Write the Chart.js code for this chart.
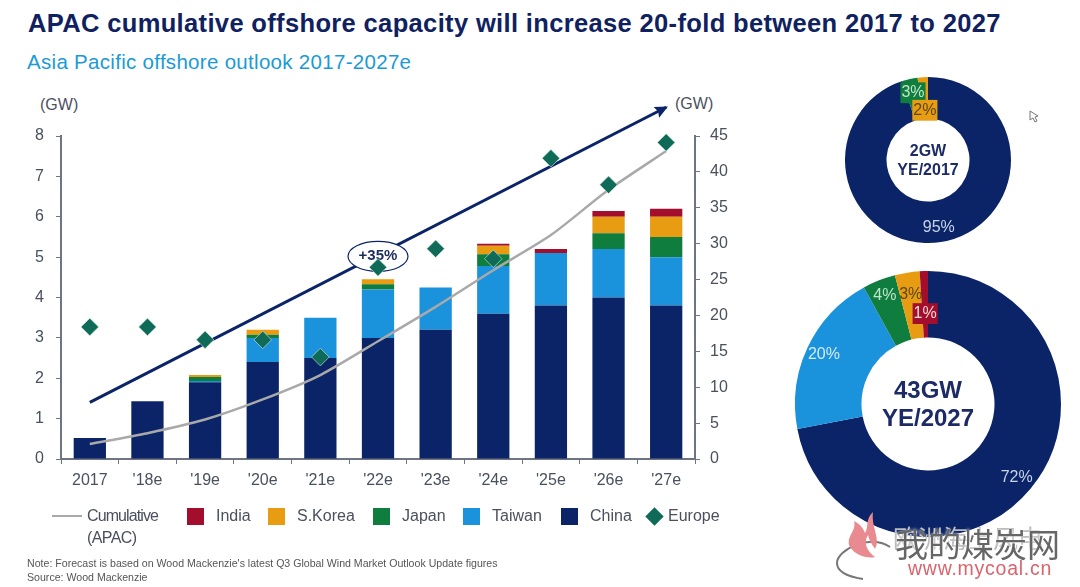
<!DOCTYPE html>
<html>
<head>
<meta charset="utf-8">
<title>APAC offshore capacity</title>
<script src="https://cdn.jsdelivr.net/npm/chart.js@4"></script>
<style>
  html, body { margin: 0; padding: 0; background: #fff; }
  body { width: 1080px; height: 587px; position: relative; overflow: hidden; font-family: "Liberation Sans", Arial, sans-serif; }
  canvas { position: absolute; }
  .txt { position: absolute; white-space: nowrap; }
  #title { left: 28px; top: 9px; font-size: 25.5px; font-weight: bold; color: #10215f; letter-spacing: 0.35px; }
  #subtitle { left: 27px; top: 50px; font-size: 20.5px; color: #1b9ad6; letter-spacing: 0.3px; }
  .unit { font-size: 16px; color: #4b4f5e; }
  .legend { font-size: 16px; color: #4b4f5e; top: 507px; }
  .swatch { position: absolute; top: 508px; width: 17px; height: 17px; }
  .note { left: 27px; font-size: 10.6px; color: #555; }
  #wm1 { left: 895px; top: 524px; font-size: 33px; color: #666; font-family: "Noto Sans CJK SC"; line-height: 38px; text-shadow: 0 0 3px #fff; }
  #wm0 { left: 893px; top: 522px; font-size: 25px; color: #bbb; font-family: "Noto Sans CJK SC"; line-height: 30px; }
  #wm2 { left: 908px; top: 557px; font-size: 19.5px; color: #d9646c; letter-spacing: 0.75px; }
</style>
</head>
<body>
<div class="txt" id="title">APAC cumulative offshore capacity will increase 20-fold between 2017 to 2027</div>
<div class="txt" id="subtitle">Asia Pacific offshore outlook 2017-2027e</div>
<div class="txt unit" style="left:40px;top:96px">(GW)</div>
<div class="txt unit" style="left:675px;top:95px">(GW)</div>

<canvas id="mainChart" width="760" height="587" style="left:0;top:0"></canvas>
<canvas id="pie2017" width="166" height="166" style="left:845px;top:77px"></canvas>
<canvas id="pie2027" width="266" height="266" style="left:795px;top:271px"></canvas>

<div id="legend"></div>
<div class="txt note" style="top:557px">Note: Forecast is based on Wood Mackenzie's latest Q3 Global Wind Market Outlook Update figures</div>
<div class="txt note" style="top:571px">Source: Wood Mackenzie</div>

<!-- watermark and stray cursor from the screenshot -->
<div class="txt" id="wm0">欧洲海上风电</div>
<svg style="position:absolute;left:835px;top:505px" width="75" height="80">
  <path d="M55 42 C35 28 2 45 2 58 C2 68 15 72 28 74" fill="none" stroke="#777" stroke-width="2"/>
  <path d="M38 7 C30 14 34 22 30 28 C27 20 22 18 19 16 C22 26 10 32 15 42 C20 50 32 54 40 52 C32 46 28 38 33 30 C35 38 38 40 40 44 C46 34 36 22 38 7Z" fill="#e88a90"/>
</svg>
<div class="txt" id="wm1">我的煤炭网</div>
<div class="txt" id="wm2">www.mycoal.cn</div>
<svg style="position:absolute;left:1029px;top:110px" width="12" height="14">
  <path d="M1 1 L1 10 L4 8 L6 12 L8 11 L6 7 L9 6 Z" fill="#fff" stroke="#777" stroke-width="1"/>
</svg>

<script>
// data
const years = ['2017', "'18e", "'19e", "'20e", "'21e", "'22e", "'23e", "'24e", "'25e", "'26e", "'27e"];
const china = [0.52, 1.43, 1.9, 2.4, 2.5, 3.0, 3.2, 3.6, 3.8, 4.0, 3.8];
const taiwan = [0, 0, 0.03, 0.6, 1.0, 1.2, 1.05, 1.18, 1.3, 1.2, 1.2];
const japan = [0, 0, 0.1, 0.08, 0, 0.13, 0, 0.29, 0, 0.39, 0.5];
const korea = [0, 0, 0.05, 0.12, 0, 0.12, 0, 0.21, 0, 0.41, 0.5];
const india = [0, 0, 0, 0, 0, 0, 0, 0.05, 0.1, 0.14, 0.2];
const cumulative = [2.1, 3.6, 5.5, 8.3, 11.7, 16.4, 21.2, 26.3, 31.2, 37.5, 42.9];
const europe = [18.4, 18.4, 16.6, 16.6, 14.2, 26.7, 29.3, 27.9, 41.9, 38.2, 44.1];
const trendArrow = [7.9, null, null, null, null, null, null, null, null, null, 49.0];
const leftTicks = [0, 1, 2, 3, 4, 5, 6, 7, 8];
const rightTicks = [0, 5, 10, 15, 20, 25, 30, 35, 40, 45];

const share2017 = [95, 3, 2];
const share2017Names = ['China', 'Japan', 'S.Korea'];
const share2027 = [72, 20, 4, 3, 1];
const share2027Names = ['China', 'Taiwan', 'Japan', 'S.Korea', 'India'];

// colours
const NAVY = '#0b2468', BLUE = '#1b93dc', GREEN = '#0f7d3e', ORANGE = '#e89c12', RED = '#a30e2c';
const TEAL = '#0f6b58', GREY = '#a9a9a9', AXIS = '#6f7483', TICKTXT = '#4b4f5e';
const sliceColor = { China: NAVY, Taiwan: BLUE, Japan: GREEN, 'S.Korea': ORANGE, India: RED };

// arrow head and oval callout, painted right after the arrow line so the diamonds stay on top
const calloutPlugin = {
    id: 'callout',
    afterDatasetDraw(chart, args) {
        if (chart.data.datasets[args.index].label !== 'Trend') return;
        const c = chart.ctx;
        const pts = args.meta.data;
        const a = pts[0], b = pts[pts.length - 1];
        const ang = Math.atan2(b.y - a.y, b.x - a.x);
        c.save();
        c.translate(b.x, b.y);
        c.rotate(ang);
        c.beginPath();
        c.moveTo(2, 0);
        c.lineTo(-11, -6);
        c.lineTo(-9, 0);
        c.lineTo(-11, 6);
        c.closePath();
        c.fillStyle = NAVY;
        c.fill();
        c.restore();

        const x = chart.scales.x.getPixelForValue(5);
        const y = chart.scales.y.getPixelForValue(5.02);
        c.save();
        c.beginPath();
        c.ellipse(x, y, 30, 15, 0, 0, Math.PI * 2);
        c.fillStyle = '#fff';
        c.fill();
        c.lineWidth = 1.2;
        c.strokeStyle = NAVY;
        c.stroke();
        c.fillStyle = '#1c2b5e';
        c.font = 'bold 15px "Liberation Sans"';
        c.textAlign = 'center';
        c.textBaseline = 'middle';
        c.fillText('+35%', x, y);
        c.restore();
    }
};

new Chart(document.getElementById('mainChart'), {
    type: 'bar',
    plugins: [calloutPlugin],
    data: {
        labels: years,
        datasets: [
            { label: 'China', data: china, backgroundColor: NAVY, order: 5 },
            { label: 'Taiwan', data: taiwan, backgroundColor: BLUE, order: 5 },
            { label: 'Japan', data: japan, backgroundColor: GREEN, order: 5 },
            { label: 'S.Korea', data: korea, backgroundColor: ORANGE, order: 5 },
            { label: 'India', data: india, backgroundColor: RED, order: 5 },
            { label: 'Trend', type: 'line', data: trendArrow, yAxisID: 'y2', spanGaps: true, clip: false,
              borderColor: NAVY, borderWidth: 3, order: 3, pointRadius: 0 },
            { label: 'Cumulative (APAC)', type: 'line', data: cumulative, yAxisID: 'y2', tension: 0.25,
              borderColor: GREY, borderWidth: 2.5, pointRadius: 0, order: 2 },
            { label: 'Europe', type: 'line', data: europe, yAxisID: 'y2', showLine: false, clip: false,
              pointStyle: 'rectRot', pointRadius: 8.8, pointBackgroundColor: TEAL,
              pointBorderColor: '#d6ece4', pointBorderWidth: 0.6, order: 1 }
        ]
    },
    options: {
        responsive: false,
        animation: false,
        layout: { padding: { top: 136, bottom: 98, left: 0, right: 0 } },
        plugins: { legend: { display: false }, tooltip: { enabled: false } },
        datasets: { bar: { categoryPercentage: 1, barPercentage: 0.56 } },
        scales: {
            x: {
                stacked: true,
                border: { color: AXIS, width: 2 },
                grid: { display: true, drawOnChartArea: false, color: AXIS, tickLength: 5, offset: true },
                ticks: { color: TICKTXT, font: { family: 'Liberation Sans', size: 16 }, padding: 7, maxRotation: 0, autoSkip: false },
                afterFit(s) { s.height = 30; }
            },
            y: {
                stacked: true,
                min: 0,
                max: 8,
                afterBuildTicks(s) { s.ticks = leftTicks.map(v => ({ value: v })); },
                border: { color: AXIS, width: 2 },
                grid: { drawOnChartArea: false, color: AXIS, tickLength: 5 },
                ticks: { color: TICKTXT, font: { family: 'Liberation Sans', size: 16 }, padding: 12 },
                afterFit(s) { s.width = 61; }
            },
            y2: {
                position: 'right',
                min: 0,
                max: 45,
                afterBuildTicks(s) { s.ticks = rightTicks.map(v => ({ value: v })); },
                border: { color: AXIS, width: 2 },
                grid: { drawOnChartArea: false, color: AXIS, tickLength: 5 },
                ticks: { color: TICKTXT, font: { family: 'Liberation Sans', size: 16 }, padding: 10 },
                afterFit(s) { s.width = 65; }
            }
        }
    }
});

// percent labels sit at the slice mid angle, at a fraction of the outer radius
const sliceLabelPlugin = {
    id: 'sliceLabels',
    afterDatasetsDraw(chart, args, opts) {
        const c = chart.ctx;
        const arcs = chart.getDatasetMeta(0).data;
        c.save();
        c.font = opts.size + 'px "Liberation Sans"';
        c.textAlign = 'center';
        c.textBaseline = 'middle';
        arcs.forEach((arc, i) => {
            const mid = (arc.startAngle + arc.endAngle) / 2;
            const r = arc.outerRadius * opts.radius[i];
            const x = arc.x + Math.cos(mid) * r;
            const y = arc.y + Math.sin(mid) * r;
            const text = chart.data.datasets[0].data[i] + '%';
            if (opts.box[i]) {
                const w = c.measureText(text).width + 2;
                c.fillStyle = opts.box[i];
                c.fillRect(x - w / 2, y - opts.size * 0.65, w, opts.size * 1.3);
            }
            c.fillStyle = opts.color[i];
            c.fillText(text, x, y);
        });
        // centre text
        const a = arcs[0];
        c.fillStyle = '#1c2b66';
        c.font = 'bold ' + opts.centerSize + 'px "Liberation Sans"';
        c.fillText(opts.center[0], a.x, a.y + 1 - opts.centerSize * 0.58);
        c.fillText(opts.center[1], a.x, a.y + 1 + opts.centerSize * 0.58);
        c.restore();
    }
};

function makePie(id, values, names, labelOpts) {
    new Chart(document.getElementById(id), {
        type: 'doughnut',
        plugins: [sliceLabelPlugin],
        data: {
            labels: names,
            datasets: [{ data: values, backgroundColor: names.map(n => sliceColor[n]), borderWidth: 0 }]
        },
        options: {
            responsive: false,
            animation: false,
            cutout: '50%',
            plugins: { legend: { display: false }, tooltip: { enabled: false }, sliceLabels: labelOpts }
        }
    });
}

makePie('pie2017', share2017, share2017Names, {
    size: 16, centerSize: 16, center: ['2GW', 'YE/2017'],
    radius: [0.83, 0.83, 0.6],
    color: ['#c6d5ea', '#bfe6c8', '#5c4716'],
    box: [null, GREEN, ORANGE]
});
makePie('pie2027', share2027, share2027Names, {
    size: 16, centerSize: 24, center: ['43GW', 'YE/2027'],
    radius: [0.865, 0.865, 0.88, 0.83, 0.68],
    color: ['#c6d5ea', '#d4ebf8', '#bfe6c8', '#5c4716', '#f6d9dd'],
    box: [null, null, null, null, RED]
});

// legend is a row of html items, one per series
const legendNames = ['India', 'S.Korea', 'Japan', 'Taiwan', 'China'];
const legendSwatchX = [187, 268, 373, 463, 561];
const legendBox = document.getElementById('legend');
legendNames.forEach((name, i) => {
    const sw = document.createElement('div');
    sw.className = 'swatch';
    sw.style.left = legendSwatchX[i] + 'px';
    sw.style.background = sliceColor[name];
    legendBox.appendChild(sw);
    const t = document.createElement('div');
    t.className = 'txt legend';
    t.style.left = (legendSwatchX[i] + 29) + 'px';
    t.textContent = name;
    legendBox.appendChild(t);
});
legendBox.insertAdjacentHTML('beforeend',
    '<div class="swatch" style="left:52px;top:515px;width:30px;height:2px;background:' + GREY + '"></div>' +
    '<div class="txt legend" style="left:87px;letter-spacing:-0.9px">Cumulative</div>' +
    '<div class="txt legend" style="left:87px;top:529px;letter-spacing:-0.6px">(APAC)</div>' +
    '<div class="swatch" style="left:648px;top:510px;width:13px;height:13px;transform:rotate(45deg);background:' + TEAL + '"></div>' +
    '<div class="txt legend" style="left:668px">Europe</div>');
</script>
</body>
</html>
